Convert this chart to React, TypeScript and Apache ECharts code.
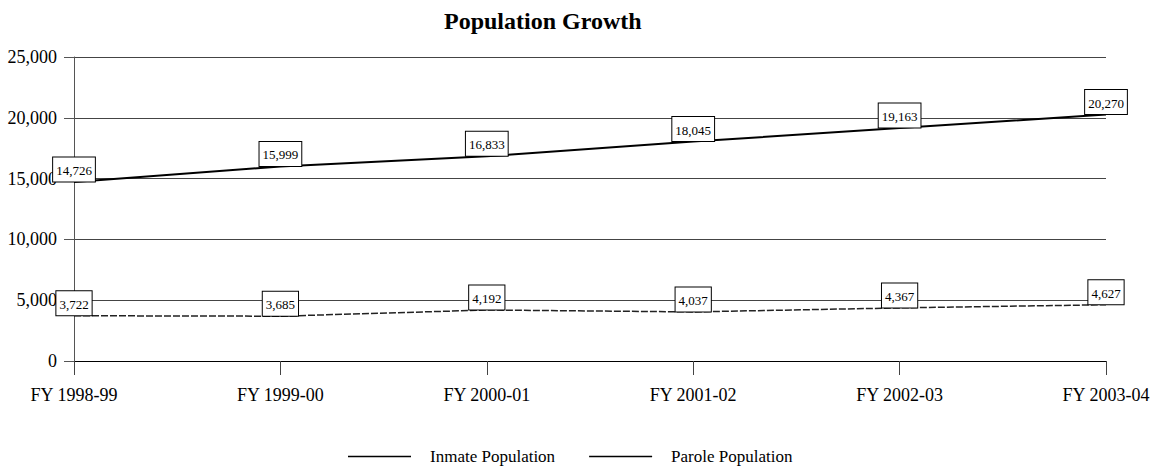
import React, { useEffect, useRef } from "react";
import * as echarts from "echarts";

const categories = ["FY 1998-99", "FY 1999-00", "FY 2000-01", "FY 2001-02", "FY 2002-03", "FY 2003-04"];
const inmatePopulation = [14726, 15999, 16833, 18045, 19163, 20270];
const parolePopulation = [3722, 3685, 4192, 4037, 4367, 4627];
const yTicks = { min: 0, max: 25000, interval: 5000 };

const FONT = "Liberation Serif";

export default function App() {
  const ref = useRef<HTMLDivElement>(null);
  useEffect(() => {
    if (!ref.current) return;
    const chart = echarts.init(ref.current, null, { renderer: "svg" });
    const label = {
      show: true,
      position: "top",
      distance: 0,
      backgroundColor: "#fff",
      borderColor: "#000",
      borderWidth: 1,
      padding: [6, 3, 4, 3],
      fontSize: 13,
      lineHeight: 14,
      fontFamily: FONT,
      color: "#000",
      formatter: (p: any) => Number(p.value).toLocaleString("en-US"),
    };
    chart.setOption({
      animation: false,
      backgroundColor: "#fff",
      textStyle: { fontFamily: FONT },
      title: {
        text: "Population Growth",
        left: 439,
        top: 4,
        textStyle: { fontFamily: FONT, fontSize: 24, fontWeight: "bold", color: "#000" },
      },
      grid: { left: 74, right: 47, top: 57, bottom: 111, containLabel: false },
      legend: {
        bottom: 2,
        left: 343,
        itemWidth: 63,
        itemHeight: 1.5,
        itemGap: 34,
        icon: "rect",
        textStyle: { fontFamily: FONT, fontSize: 17, color: "#000", padding: [0, 0, 0, 14] },
        data: [
          { name: "Inmate Population", itemStyle: { color: "#000", opacity: 1 } },
          { name: "Parole Population", itemStyle: { color: "#000", opacity: 1 } },
        ],
      },
      xAxis: {
        type: "category",
        data: categories,
        boundaryGap: false,
        axisLine: { lineStyle: { color: "#000", width: 1 } },
        axisTick: { show: true, length: 14, lineStyle: { color: "#444" } },
        axisLabel: { fontFamily: FONT, fontSize: 18, color: "#000", margin: 25 },
        splitLine: { show: false },
      },
      yAxis: {
        type: "value",
        min: yTicks.min,
        max: yTicks.max,
        interval: yTicks.interval,
        axisLine: { show: true, lineStyle: { color: "#555", width: 1 } },
        axisTick: { show: true, length: 10, lineStyle: { color: "#555" } },
        axisLabel: {
          fontFamily: FONT,
          fontSize: 18,
          color: "#000",
          margin: 17,
          formatter: (v: number) => v.toLocaleString("en-US"),
        },
        splitLine: { show: true, lineStyle: { color: "#444", width: 1 } },
      },
      series: [
        {
          name: "Inmate Population",
          type: "line",
          data: inmatePopulation,
          symbol: "circle",
          symbolSize: 1,
          showSymbol: true,
          lineStyle: { color: "#000", width: 2 },
          itemStyle: { color: "rgba(0,0,0,0)" },
          label,
        },
        {
          name: "Parole Population",
          type: "line",
          data: parolePopulation,
          symbol: "circle",
          symbolSize: 1,
          showSymbol: true,
          lineStyle: { color: "#222", width: 1.5, type: [7, 2] },
          itemStyle: { color: "rgba(0,0,0,0)" },
          label,
        },
      ],
    });
    return () => chart.dispose();
  }, []);
  return <div ref={ref} style={{ width: 1153, height: 472, position: "absolute", left: 0, top: 0 }} />;
}
